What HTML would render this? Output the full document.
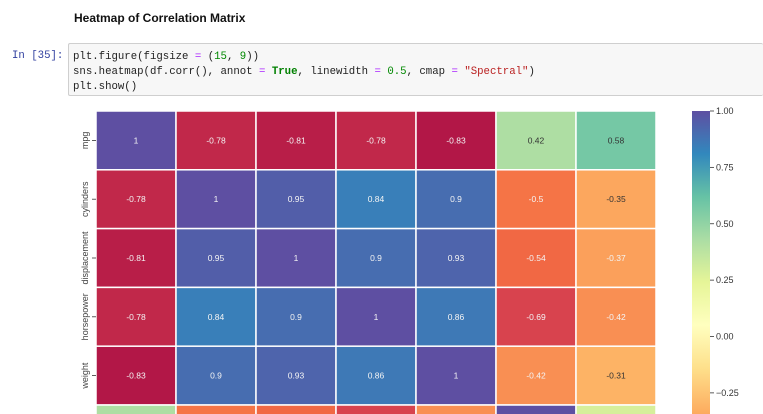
<!DOCTYPE html>
<html><head><meta charset="utf-8"><style>
html,body{margin:0;width:763px;height:414px;overflow:hidden}
body{background:#fff;font-family:"Liberation Sans",sans-serif;position:relative}
.t{position:absolute;left:74px;top:11px;font-weight:bold;font-size:12px;color:#111}
.in{position:absolute;left:12px;top:50px;font-family:"Liberation Mono",monospace;font-size:10.7px;color:#303f9f}
.code{position:absolute;left:68px;top:43px;width:695px;height:53px;background:#f7f7f7;border:1px solid #cfcfcf;border-right:none;border-radius:2px;box-sizing:border-box}
.code pre{margin:0;position:absolute;left:4px;top:6px;font-family:"Liberation Mono",monospace;font-size:10.7px;line-height:15px;color:#222}
.g{color:#008000;font-weight:bold}.n{color:#080}.s{color:#ba2121}.o{color:#aa22ff}
svg{position:absolute;left:0;top:0}
</style></head><body>
<div class="t">Heatmap of Correlation Matrix</div>
<div class="in">In [35]:</div>
<div class="code"><pre>plt.figure(figsize <span class="o">=</span> (<span class="n">15</span>, <span class="n">9</span>))
sns.heatmap(df.corr(), annot <span class="o">=</span> <span class="g">True</span>, linewidth <span class="o">=</span> <span class="n">0.5</span>, cmap <span class="o">=</span> <span class="s">"Spectral"</span>)
plt.show()</pre></div>
<svg id="s" width="763" height="414"></svg>
<script>
(function(){
var C=["#9e0142","#d53e4f","#f46d43","#fdae61","#fee08b","#ffffbf","#e6f598","#abdda4","#66c2a5","#3288bd","#5e4fa2"];
function h(c){return[1,3,5].map(function(i){return parseInt(c.substr(i,2),16)})}
var vmin=-0.9;
function col(v){var t=(v-vmin)/(1-vmin);t=Math.max(0,Math.min(1,t));var p=t*10,i=Math.min(9,Math.floor(p)),f=p-i;var a=h(C[i]),b=h(C[i+1]);return a.map(function(x,k){return Math.round(x+(b[k]-x)*f)})}
var M=[[1,-0.78,-0.81,-0.78,-0.83,0.42,0.58],[-0.78,1,0.95,0.84,0.9,-0.5,-0.35],[-0.81,0.95,1,0.9,0.93,-0.54,-0.37],[-0.78,0.84,0.9,1,0.86,-0.69,-0.42],[-0.83,0.9,0.93,0.86,1,-0.42,-0.31],[0.42,-0.5,-0.54,-0.69,-0.42,1,0.29]];
var dark=[0.42,0.58,-0.35,-0.31,0.29];
var L=["mpg","cylinders","displacement","horsepower","weight"];
var s="",x0=96,y0=111,w=80,hh=58.8;
M.forEach(function(r,i){r.forEach(function(v,j){var c=col(v);var x=x0+j*w,y=y0+i*hh;
s+='<rect x="'+x+'" y="'+y+'" width="'+w+'" height="'+hh+'" fill="rgb('+c+')" stroke="#fff" stroke-width="1.5"/>';
s+='<text x="'+(x+w/2)+'" y="'+(y+hh/2+3)+'" font-size="8.5" text-anchor="middle" fill="'+(dark.indexOf(v)>=0?'#333':'#f4f4f4')+'">'+v+'</text>';});});
L.forEach(function(l,i){var y=y0+i*hh+hh/2;s+='<line x1="92" x2="96" y1="'+y+'" y2="'+y+'" stroke="#333" stroke-width="0.8"/><text transform="translate(88,'+y+') rotate(-90)" font-size="9" text-anchor="middle" fill="#444">'+l+'</text>';});
s+='<defs><linearGradient id="gr" x1="0" y1="1" x2="0" y2="0">'+C.map(function(c,k){return '<stop offset="'+(k/10)+'" stop-color="'+c+'"/>'}).join("")+'</linearGradient></defs>';
var cbT=111,pp=225.5,cbB=cbT+pp*(1-vmin);
s+='<rect x="692" y="'+cbT+'" width="18" height="'+(cbB-cbT)+'" fill="url(#gr)"/>';
[1,0.75,0.5,0.25,0,-0.25].forEach(function(v){var y=cbT+(1-v)*pp;s+='<line x1="710" x2="714" y1="'+y+'" y2="'+y+'" stroke="#333" stroke-width="0.8"/><text x="716" y="'+(y+3)+'" font-size="9" fill="#333">'+(v<0?'\u2212'+(-v).toFixed(2):v.toFixed(2))+'</text>';});
document.getElementById("s").innerHTML=s;
})();
</script>
</body></html>
